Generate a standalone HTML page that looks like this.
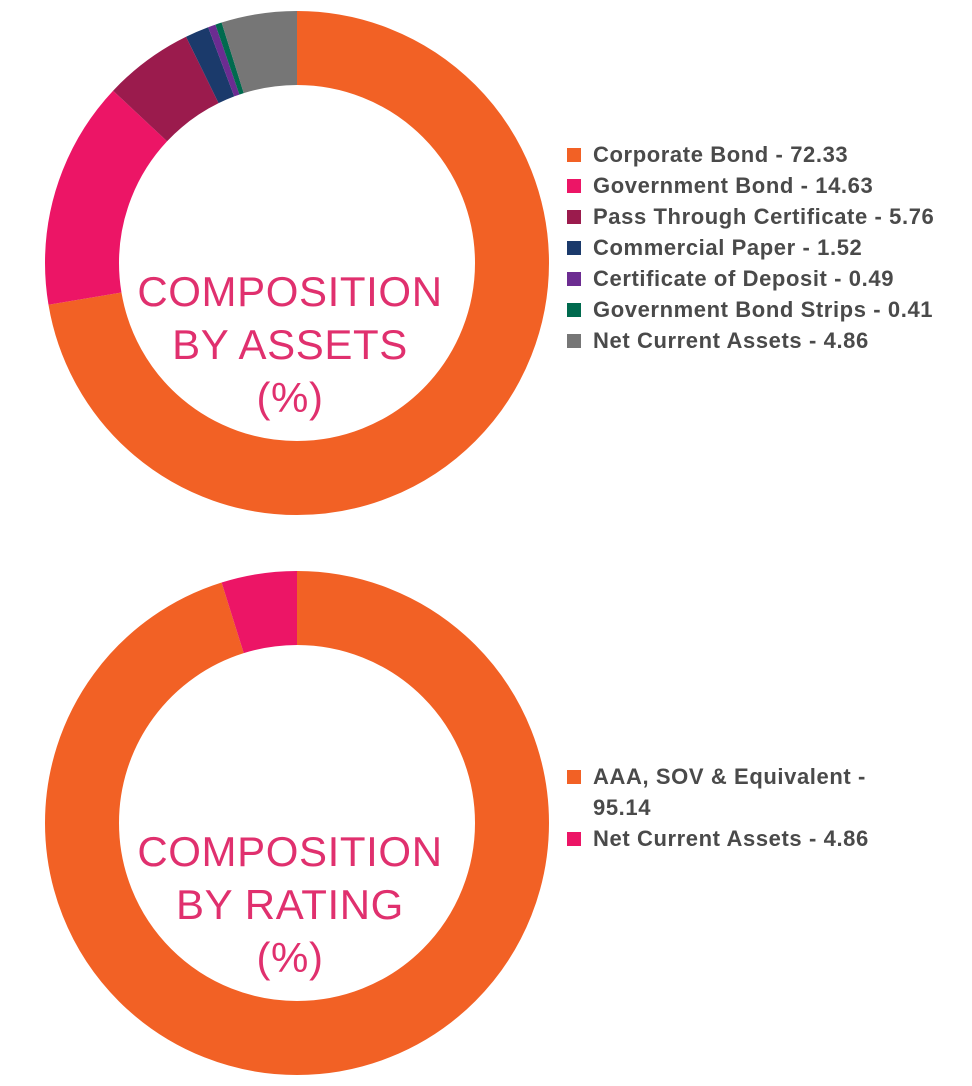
<!DOCTYPE html>
<html><head><meta charset="utf-8"><style>
body{margin:0;width:972px;height:1086px;background:#fff;overflow:hidden;font-family:"Liberation Sans",sans-serif}
svg{position:absolute;left:0;top:0}
.lg{position:absolute;left:567px;font-size:22px;font-weight:bold;color:#4a4a4a;line-height:31px;letter-spacing:0.6px}
.lg div{position:relative;padding-left:26px;white-space:nowrap}
.lg span{position:absolute;left:0;top:9px;width:14px;height:14px}
.c{position:absolute;width:400px;text-align:center;color:#E0306E;font-size:42px;line-height:53px;letter-spacing:0.6px}
</style></head><body>
<svg width="972" height="1086">
<g transform="rotate(-90 297 263)" fill="none" stroke-width="74">
<circle cx="297" cy="263" r="215" stroke="#F26125" stroke-dasharray="977.09 2000" stroke-dashoffset="0"/>
<circle cx="297" cy="263" r="215" stroke="#EC1566" stroke-dasharray="197.64 2000" stroke-dashoffset="-977.09"/>
<circle cx="297" cy="263" r="215" stroke="#9B1B4D" stroke-dasharray="77.81 2000" stroke-dashoffset="-1174.73"/>
<circle cx="297" cy="263" r="215" stroke="#1B3A6B" stroke-dasharray="20.53 2000" stroke-dashoffset="-1252.54"/>
<circle cx="297" cy="263" r="215" stroke="#6C2C91" stroke-dasharray="6.62 2000" stroke-dashoffset="-1273.07"/>
<circle cx="297" cy="263" r="215" stroke="#006A4E" stroke-dasharray="5.54 2000" stroke-dashoffset="-1279.69"/>
<circle cx="297" cy="263" r="215" stroke="#767676" stroke-dasharray="65.65 2000" stroke-dashoffset="-1285.23"/>
</g>
<g transform="rotate(-90 297 823)" fill="none" stroke-width="74">
<circle cx="297" cy="823" r="215" stroke="#F26125" stroke-dasharray="1285.23 2000"/>
<circle cx="297" cy="823" r="215" stroke="#EC1566" stroke-dasharray="65.65 2000" stroke-dashoffset="-1285.23"/>
</g>
</svg>
<div class="c" style="left:90px;top:265px">COMPOSITION<br>BY ASSETS<br>(%)</div>
<div class="c" style="left:90px;top:825px">COMPOSITION<br>BY RATING<br>(%)</div>
<div class="lg" style="top:139px">
<div><span style="background:#F26125"></span>Corporate Bond - 72.33</div>
<div><span style="background:#EC1566"></span>Government Bond - 14.63</div>
<div><span style="background:#9B1B4D"></span>Pass Through Certificate - 5.76</div>
<div><span style="background:#1B3A6B"></span>Commercial Paper - 1.52</div>
<div><span style="background:#6C2C91"></span>Certificate of Deposit - 0.49</div>
<div><span style="background:#006A4E"></span>Government Bond Strips - 0.41</div>
<div><span style="background:#767676"></span>Net Current Assets - 4.86</div>
</div>
<div class="lg" style="top:761px">
<div><span style="background:#F26125"></span>AAA, SOV &amp; Equivalent -<br>95.14</div>
<div><span style="background:#EC1566"></span>Net Current Assets - 4.86</div>
</div>
</body></html>
